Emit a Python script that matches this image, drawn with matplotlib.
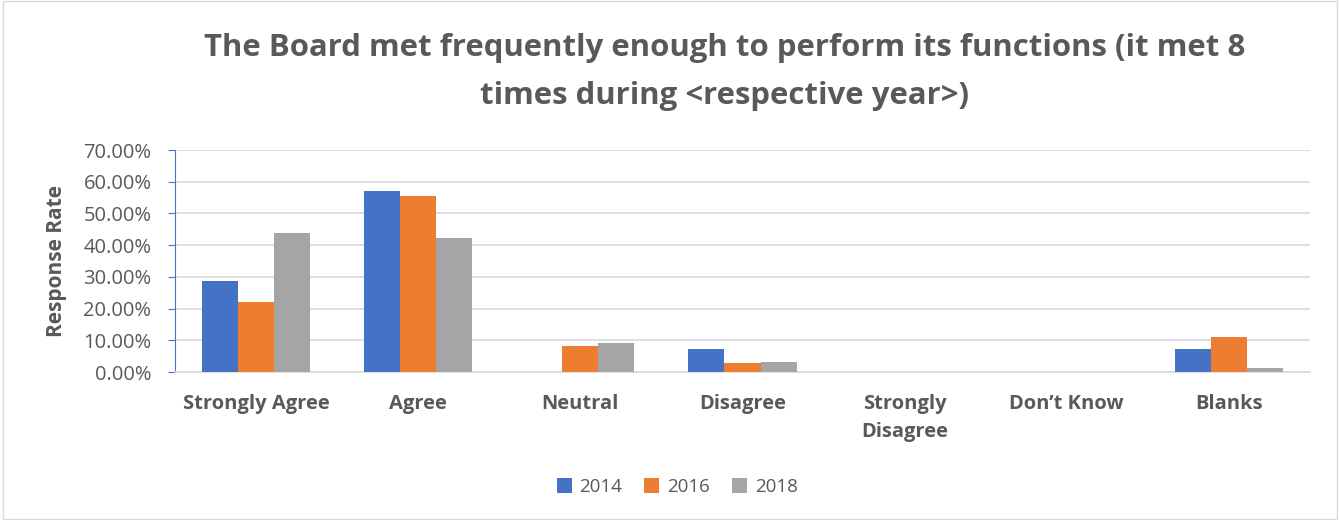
import matplotlib
matplotlib.use("Agg")
import matplotlib.pyplot as plt
import numpy as np
from matplotlib.ticker import FuncFormatter

# ---------------- data ----------------
categories = ["Strongly Agree", "Agree", "Neutral", "Disagree", "Strongly\nDisagree", "Don\u2019t Know", "Blanks"]
years = ["2014", "2016", "2018"]
rate2014 = [28.57, 57.14, 0.0, 7.14, 0.0, 0.0, 7.14]
rate2016 = [22.22, 55.56, 8.33, 2.78, 0.0, 0.0, 11.11]
rate2018 = [43.9, 42.3, 9.0, 3.0, 0.0, 0.0, 1.3]
colors = ["#4472C4", "#ED7D31", "#A5A5A5"]

plt.rcParams['font.family'] = ['Open Sans', 'DejaVu Sans']
txt = "#595959"

fig = plt.figure(figsize=(13.4, 5.2), dpi=100)
ax = fig.add_axes([175/1340, 1 - 372/520, 1135/1340, 222/520])

x = np.arange(len(categories))
w = 1/4.5
for i, vals in enumerate([rate2014, rate2016, rate2018]):
    ax.bar(x + (i - 1)*w, vals, w, color=colors[i], label=years[i], zorder=3)

ax.set_xlim(-0.5, len(categories) - 0.5)
ax.set_ylim(0, 70)
ax.set_yticks(np.arange(0, 71, 10))
ax.yaxis.set_major_formatter(FuncFormatter(lambda v, p: "%.2f%%" % v))
ax.grid(axis='y', color='#D9D9D9', linewidth=1.2, zorder=0)
for s in ['top', 'right']:
    ax.spines[s].set_visible(False)
ax.spines['bottom'].set_color('#D9D9D9')
ax.spines['bottom'].set_linewidth(1.2)
ax.spines['left'].set_color('#4472C4')
ax.tick_params(axis='y', colors='#4472C4', labelcolor=txt, labelsize=14.5, length=5, pad=12)
ax.tick_params(axis='x', length=0, pad=16)
ax.set_xticks(x)
ax.set_xticklabels(categories, fontsize=14.5, fontweight='bold', color=txt, linespacing=1.5)
ax.set_ylabel("Response Rate", fontsize=15, fontweight='bold', color=txt, labelpad=12)

fig.text(725/1340, 1 - 72/520, "The Board met frequently enough to perform its functions (it met 8\ntimes during <respective year>)",
         ha='center', va='center', fontsize=22.4, fontweight='bold', color=txt, linespacing=1.75)

leg = fig.legend(loc='center', bbox_to_anchor=(677/1340, 1 - 487/520), ncol=3, frameon=False,
                 fontsize=13.5, handlelength=0.8, handleheight=0.8, columnspacing=1.2, handletextpad=0.4)
for t in leg.get_texts():
    t.set_color(txt)

border = plt.Rectangle((0.002, 0.002), 0.996, 0.996, transform=fig.transFigure, fill=False,
                       edgecolor='#D9D9D9', linewidth=1)
fig.patches.append(border)

fig.savefig("out.png", dpi=100)
